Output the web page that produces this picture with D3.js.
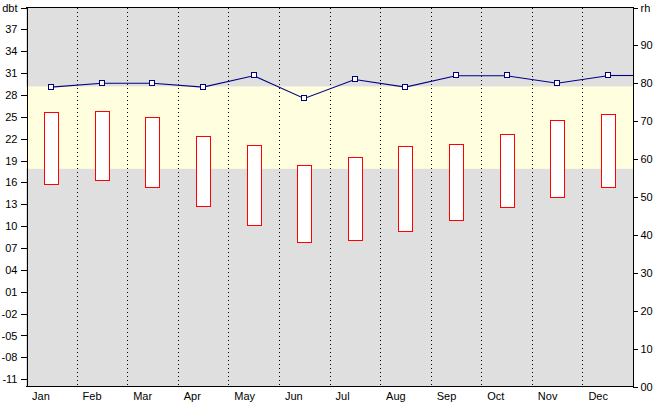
<!DOCTYPE html>
<html>
<head>
<meta charset="utf-8">
<script src="https://cdn.jsdelivr.net/npm/d3@7"></script>
<style>
  html, body { margin: 0; padding: 0; background: #ffffff; }
  svg { display: block; }
  text { font-family: "Liberation Sans", Arial, sans-serif; font-size: 11px; fill: #000; }
</style>
</head>
<body>
<svg id="chart" width="664" height="406"></svg>
<script>
// ---- data ----
const months = ["Jan","Feb","Mar","Apr","May","Jun","Jul","Aug","Sep","Oct","Nov","Dec"];
const dbtMax = [25.6, 25.7, 24.9, 22.3, 21.1, 18.3, 19.4, 20.9, 21.2, 22.6, 24.5, 25.3];
const dbtMin = [15.7, 16.3, 15.3, 12.7, 10.1, 7.8, 8.1, 9.2, 10.8, 12.5, 14.0, 15.3];
const rh = [79, 80, 80, 79, 82, 76, 81, 79, 82, 82, 80, 82];
const comfortBand = [17.8, 29.1];
const dbtTicks = [-11, -8, -5, -2, 1, 4, 7, 10, 13, 16, 19, 22, 25, 28, 31, 34, 37, 40];
const rhTicks = [0, 10, 20, 30, 40, 50, 60, 70, 80, 90, 100];
const dbtDomain = [-12, 40];
const rhDomain = [0, 100];
const dbtTitle = "dbt";
const rhTitle = "rh";

// ---- layout ----
const L = 26, R = 633, T = 7, B = 386;
const svg = d3.select("#chart");

const x = d3.scaleBand().domain(months).range([L, R]).padding(0);
const y = d3.scaleLinear().domain(dbtDomain).range([B, T]);
const y2 = d3.scaleLinear().domain(rhDomain).range([B, T]);

const pad2 = v => (v < 0 ? "-" : "") + String(Math.abs(v)).padStart(2, "0");
const FONT = "Liberation Sans, Arial, sans-serif";

// background
svg.append("rect").attr("x", L).attr("y", T).attr("width", R - L).attr("height", B - T)
  .attr("fill", "#dfdfdf");
// comfort band
svg.append("rect").attr("x", L)
  .attr("y", y(comfortBand[1])).attr("width", R - L)
  .attr("height", y(comfortBand[0]) - y(comfortBand[1]))
  .attr("fill", "#ffffdf");

// vertical dotted separators
svg.append("g").selectAll("line").data(months.slice(1)).join("line")
  .attr("x1", d => Math.round(x(d)) + 0.5).attr("x2", d => Math.round(x(d)) + 0.5)
  .attr("y1", T + 1).attr("y2", B)
  .attr("stroke", "#000").attr("stroke-width", 1).attr("stroke-dasharray", "1,3");

// bars
const bw = 14;
svg.append("g").selectAll("rect").data(months).join("rect")
  .attr("x", (d) => Math.round(x(d) + x.bandwidth() / 2 - bw / 2) + 0.5)
  .attr("y", (d, i) => Math.round(y(dbtMax[i])) + 0.5)
  .attr("width", bw)
  .attr("height", (d, i) => Math.round(y(dbtMin[i])) - Math.round(y(dbtMax[i])))
  .attr("fill", "#ffffff").attr("stroke", "#ff0000").attr("stroke-width", 1)
  .attr("shape-rendering", "crispEdges");

// rh line
const cx = d => x(d) + x.bandwidth() / 2;
const line = d3.line().x(d => cx(d)).y((d, i) => y2(rh[i]) + 0.5);
svg.append("path").datum(months).attr("d", line)
  .attr("fill", "none").attr("stroke", "#000080").attr("stroke-width", 1.1);
// continuation to right edge
svg.append("line")
  .attr("x1", cx(months[months.length - 1])).attr("x2", R)
  .attr("y1", Math.round(y2(rh[rh.length - 1])) + 0.5).attr("y2", Math.round(y2(rh[rh.length - 1])) + 0.5)
  .attr("stroke", "#000080").attr("stroke-width", 1.1);
// markers
svg.append("g").selectAll("rect").data(months).join("rect")
  .attr("x", d => Math.round(cx(d)) - 2.5).attr("y", (d, i) => Math.round(y2(rh[i])) - 2.5)
  .attr("width", 5).attr("height", 5)
  .attr("fill", "#ffffff").attr("stroke", "#000080").attr("stroke-width", 1)
  .attr("shape-rendering", "crispEdges");

// frame: top and bottom lines
svg.append("line").attr("x1", L).attr("x2", R + 1).attr("y1", T + 0.5).attr("y2", T + 0.5)
  .attr("stroke", "#000").attr("shape-rendering", "crispEdges");
svg.append("line").attr("x1", L).attr("x2", R + 1).attr("y1", B + 0.5).attr("y2", B + 0.5)
  .attr("stroke", "#000").attr("shape-rendering", "crispEdges");

// left axis
const yAxis = d3.axisLeft(y).tickValues(dbtTicks)
  .tickFormat(v => v === dbtDomain[1] ? dbtTitle : pad2(v))
  .tickSize(6).tickSizeOuter(0).tickPadding(3);
const gL = svg.append("g").attr("transform", `translate(${L + 0.5},0.5)`).call(yAxis);
gL.selectAll("text").style("font-family", FONT).style("font-size", "11px");

// right axis
const y2Axis = d3.axisRight(y2).tickValues(rhTicks)
  .tickFormat(v => v === rhDomain[1] ? rhTitle : pad2(v))
  .tickSize(5).tickSizeOuter(0).tickPadding(3);
const gR = svg.append("g").attr("transform", `translate(${R - 0.5},0.5)`).call(y2Axis);
gR.selectAll("text").style("font-family", FONT).style("font-size", "11px");

// month labels
const xAxis = d3.axisBottom(x).tickSize(0).tickSizeOuter(0).tickPadding(0);
const gB = svg.append("g").attr("transform", `translate(0,${B})`).call(xAxis);
gB.select(".domain").remove();
gB.selectAll("text")
  .attr("text-anchor", "start")
  .attr("x", -x.bandwidth() / 2 + 6)
  .attr("y", 6)
  .attr("dy", "0.71em")
  .style("font-family", FONT).style("font-size", "11px");
svg.selectAll(".tick line").attr("shape-rendering", "crispEdges");
svg.selectAll(".domain").attr("shape-rendering", "crispEdges");
</script>
</body>
</html>
